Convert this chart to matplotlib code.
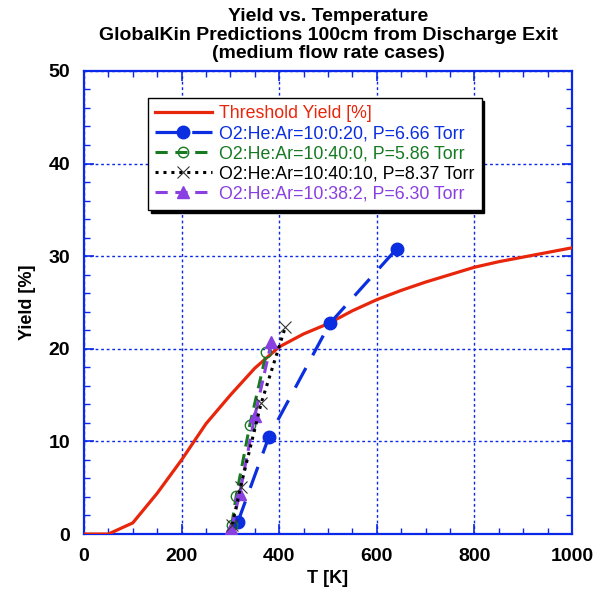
import matplotlib
matplotlib.use("Agg")
import matplotlib.pyplot as plt
from matplotlib.ticker import MultipleLocator

plt.rcParams['font.family'] = ['Liberation Sans', 'DejaVu Sans']

# threshold yield curve
t_thresh = [0, 50, 100, 150, 200, 250, 300, 350, 400, 450, 500, 550, 600,
            650, 700, 750, 800, 850, 900, 950, 1000]
y_thresh = [0, 0, 1.2, 4.4, 8.0, 11.9, 15.0, 17.9, 20.2, 21.6, 22.7, 24.1, 25.3,
            26.3, 27.2, 28.0, 28.8, 29.4, 29.9, 30.4, 30.9]

# GlobalKin runs
t_a = [315, 379, 504, 641]
y_a = [1.25, 10.5, 22.75, 30.8]

t_b = [303, 312, 340, 374]
y_b = [1.0, 4.1, 11.8, 19.6]

t_c = [304, 321, 363, 413]
y_c = [1.0, 5.1, 14.1, 22.4]

t_d = [302, 319, 350, 384]
y_d = [0.6, 4.3, 12.7, 20.7]

labels = ['Threshold Yield [%]',
          'O2:He:Ar=10:0:20, P=6.66 Torr',
          'O2:He:Ar=10:40:0, P=5.86 Torr',
          'O2:He:Ar=10:40:10, P=8.37 Torr',
          'O2:He:Ar=10:38:2, P=6.30 Torr']

red = '#e8260c'
blue = '#0a2ee0'
green = '#177a22'
purple = '#8a40e0'
axblue = '#0a28e8'

fig = plt.figure(figsize=(6.02, 5.96), dpi=100)
ax = fig.add_axes([0.1395, 0.104, 0.8105, 0.777])

ax.plot(t_thresh, y_thresh, color=red, lw=2.3, label=labels[0], zorder=3)
ax.plot(t_a, y_a, color=blue, lw=2.3, dashes=(7, 4.5), marker='o', ms=9,
        label=labels[1], zorder=4)
ax.plot(t_b, y_b, color=green, lw=2.2, dashes=(4, 2.5), marker='o', ms=7.5,
        mfc='none', mec=green, mew=1.0, label=labels[2], zorder=5)
ax.plot(t_c, y_c, color='black', lw=2.2, dashes=(1, 1.6), marker='x', ms=8,
        mec='#333333', mew=0.8, label=labels[3], zorder=6)
ax.plot(t_d, y_d, color=purple, lw=2.2, dashes=(4, 2.5), marker='^', ms=8,
        label=labels[4], zorder=5)

ax.set_xlim(0, 1000)
ax.set_ylim(0, 50)
ax.xaxis.set_major_locator(MultipleLocator(200))
ax.xaxis.set_minor_locator(MultipleLocator(50))
ax.yaxis.set_major_locator(MultipleLocator(10))
ax.yaxis.set_minor_locator(MultipleLocator(2))
ax.tick_params(which='both', direction='in', top=True, right=True,
               color=axblue, labelsize=14, pad=10)
ax.tick_params(which='major', length=7, width=1.2)
ax.tick_params(which='minor', length=4, width=1.0)
for lab in ax.get_xticklabels() + ax.get_yticklabels():
    lab.set_fontweight('bold')
for sp in ax.spines.values():
    sp.set_color(axblue)
    sp.set_linewidth(1.6)
ax.grid(True, which='major', color=axblue, ls=(0, (2, 2)), lw=1.0)

ax.set_xlabel('T [K]', fontsize=13, fontweight='bold', labelpad=4)
ax.set_ylabel('Yield [%]', fontsize=13, fontweight='bold', labelpad=9)
ax.set_title('Yield vs. Temperature\n'
             'GlobalKin Predictions 100cm from Discharge Exit\n'
             '(medium flow rate cases)',
             fontsize=14, fontweight='bold', linespacing=1.12, pad=9)

leg = ax.legend(loc='upper left', bbox_to_anchor=(0.131, 0.942), fontsize=12.8,
                handlelength=3.2, handletextpad=0.4, labelspacing=0.18,
                borderpad=0.4, borderaxespad=0, fancybox=False, framealpha=1,
                edgecolor='black', shadow={'color': 'black', 'alpha': 1})
leg.get_frame().set_linewidth(1.0)
for txt, col in zip(leg.get_texts(), [red, blue, green, 'black', purple]):
    txt.set_color(col)

fig.savefig('out.png', dpi=100)
